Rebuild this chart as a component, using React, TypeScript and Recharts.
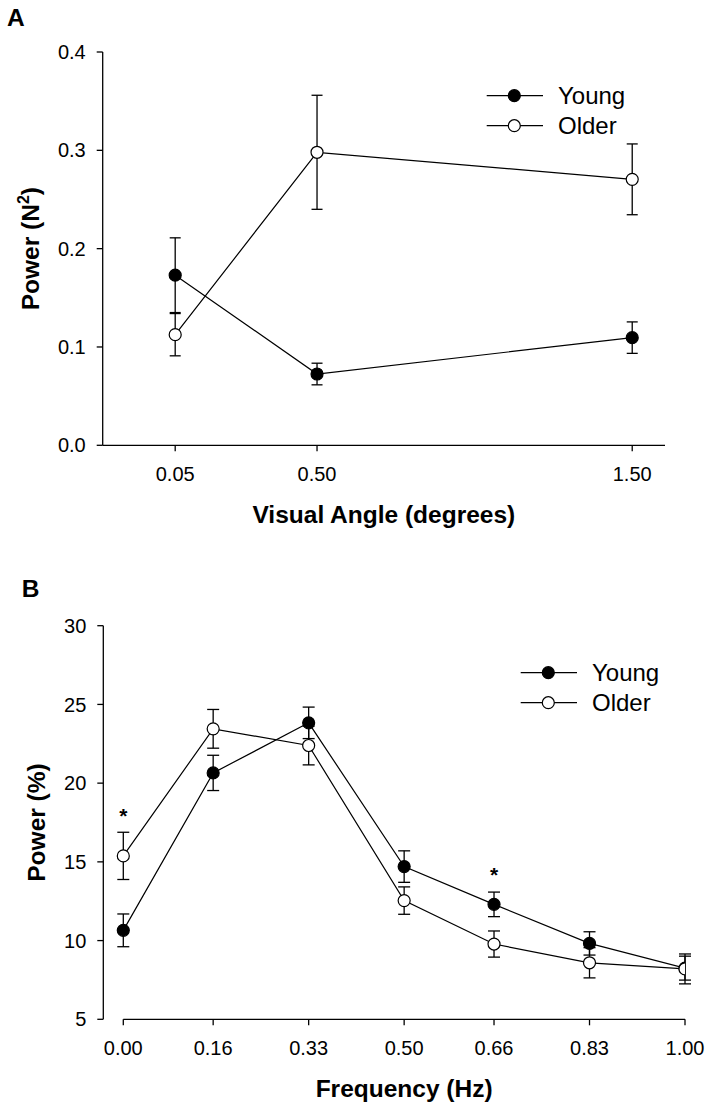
import React from 'react';
import {
  ComposedChart,
  Line,
  ErrorBar,
  Scatter,
  XAxis,
  YAxis,
  Legend,
  ReferenceLine,
} from 'recharts';

const FONT = '"Liberation Sans", Arial, Helvetica, sans-serif';

// Panel A: power by visual angle
const anglesA = [0.05, 0.5, 1.5];
const youngPowerA = [0.173, 0.0725, 0.1095];
const youngErrA = [0.038, 0.011, 0.016];
const olderPowerA = [0.1125, 0.298, 0.2705];
const olderErrA = [0.0215, 0.058, 0.036];
const yTicksA = [0, 0.1, 0.2, 0.3, 0.4];

// Panel B: relative power by frequency
const freqsB = [0, 0.16, 0.33, 0.5, 0.66, 0.83, 1.0];
const youngPowerB = [10.65, 20.65, 23.83, 14.7, 12.3, 9.82, 8.25];
const youngErrB = [1.04, 1.12, 1.0, 1.0, 0.78, 0.74, 0.76];
const olderPowerB = [15.38, 23.45, 22.39, 12.54, 9.78, 8.59, 8.2];
const olderErrB = [1.5, 1.23, 1.23, 0.87, 0.83, 0.96, 0.95];
const yTicksB = [5, 10, 15, 20, 25, 30];
const sigFreqs = [0, 0.66];
const sigLevels = [18.2, 14.45];

const groups = ['Young', 'Older'];
const markerFill: Record<string, string> = { Young: '#000', Older: '#fff' };

const dataA = anglesA.map((x, i) => ({
  x,
  young: youngPowerA[i],
  youngErr: youngErrA[i],
  older: olderPowerA[i],
  olderErr: olderErrA[i],
}));

const dataB = freqsB.map((x, i) => ({
  x,
  young: youngPowerB[i],
  youngErr: youngErrB[i],
  older: olderPowerB[i],
  olderErr: olderErrB[i],
}));

const sigData = sigFreqs.map((x, i) => ({ x, y: sigLevels[i] }));

const axisStroke = { stroke: '#000', strokeWidth: 1.3 };
const tickStyle = { fill: '#000', fontSize: 20, fontFamily: FONT };

function renderKey(props: any) {
  const items = (props.payload || [])
    .filter((e: any) => markerFill[e.value])
    .sort((a: any, b: any) => groups.indexOf(a.value) - groups.indexOf(b.value));
  return (
    <svg width={200} height={60} style={{ display: 'block' }}>
      {items.map((entry: any, i: number) => {
        const y = 15.7 + i * 30;
        return (
          <g key={entry.value}>
            <line x1={0.7} x2={57} y1={y} y2={y} stroke="#000" strokeWidth={1.2} />
            <circle cx={28.3} cy={y} r={6} fill={markerFill[entry.value]} stroke="#000" strokeWidth={1.2} />
            <text x={72} y={y} dy="0.36em" fontSize={24} fontFamily={FONT} fill="#000">
              {entry.value}
            </text>
          </g>
        );
      })}
    </svg>
  );
}

function xTitle(text: string, shift: number) {
  return (props: any) => {
    const vb = props.viewBox;
    return (
      <text
        x={vb.x + vb.width / 2 + shift}
        y={vb.y + 77.5}
        textAnchor="middle"
        fontSize={24.5}
        fontWeight="bold"
        fontFamily={FONT}
        fill="#000"
      >
        {text}
      </text>
    );
  };
}

function yTitle(baseX: number, sup: boolean) {
  return (props: any) => {
    const vb = props.viewBox;
    const x = vb.x + baseX;
    const y = vb.y + vb.height / 2;
    return (
      <text
        x={x}
        y={y}
        transform={`rotate(-90, ${x}, ${y})`}
        textAnchor="middle"
        fontSize={24.5}
        fontWeight="bold"
        fontFamily={FONT}
        fill="#000"
      >
        {sup ? (
          <>
            Power (N
            <tspan fontSize={16} dy={-10}>2</tspan>
            <tspan dy={10}>)</tspan>
          </>
        ) : (
          'Power (%)'
        )}
      </text>
    );
  };
}

const Asterisk = (p: any) => (
  <text x={p.cx} y={p.cy} dy="0.57em" textAnchor="middle" fontSize={21} fontWeight="bold" fontFamily={FONT} fill="#000">
    *
  </text>
);

function dotStyle(fill: string) {
  return { r: 6, fill, stroke: '#000', strokeWidth: 1.2 };
}

function PanelA() {
  return (
    <ComposedChart width={712} height={560} data={dataA} margin={{ top: 52, right: 47, bottom: 0, left: 0 }}>
      <XAxis
        dataKey="x"
        type="number"
        domain={[-0.18, 1.604]}
        allowDataOverflow
        ticks={anglesA}
        interval={0}
        tickFormatter={(v: number) => v.toFixed(2)}
        height={114.7}
        tickSize={6}
        tickMargin={15.7}
        axisLine={axisStroke}
        tickLine={axisStroke}
        tick={tickStyle}
        label={{ content: xTitle('Visual Angle (degrees)', 0) }}
      />
      <YAxis
        type="number"
        domain={[0, 0.4]}
        allowDataOverflow
        ticks={yTicksA}
        interval={0}
        tickFormatter={(v: number) => v.toFixed(1)}
        width={102.7}
        tickSize={6}
        tickMargin={11}
        axisLine={axisStroke}
        tickLine={axisStroke}
        tick={tickStyle}
        label={{ content: yTitle(39, true) }}
      />
      <Legend
        layout="vertical"
        align="center"
        verticalAlign="middle"
        content={renderKey}
        wrapperStyle={{ left: 486, top: 80, width: 200, height: 60 }}
      />
      <Line
        dataKey="young"
        name="Young"
        type="linear"
        stroke="#000"
        strokeWidth={1.2}
        dot={dotStyle('#000')}
        activeDot={false}
        isAnimationActive={false}
      >
        <ErrorBar dataKey="youngErr" direction="y" width={5.5} stroke="#000" strokeWidth={1.3} isAnimationActive={false} />
      </Line>
      <Line
        dataKey="older"
        name="Older"
        type="linear"
        stroke="#000"
        strokeWidth={1.2}
        dot={dotStyle('#fff')}
        activeDot={false}
        isAnimationActive={false}
      >
        <ErrorBar dataKey="olderErr" direction="y" width={5.5} stroke="#000" strokeWidth={1.3} isAnimationActive={false} />
      </Line>
    </ComposedChart>
  );
}

function PanelB() {
  return (
    <ComposedChart width={712} height={550} data={dataB} margin={{ top: 65.7, right: 27, bottom: 0, left: 0 }}>
      <XAxis
        dataKey="x"
        type="number"
        domain={[-0.0356, 1.0]}
        allowDataOverflow
        ticks={freqsB}
        interval={0}
        tickFormatter={(v: number) => v.toFixed(2)}
        height={90.7}
        tickSize={6}
        tickMargin={15.7}
        axisLine={false}
        tickLine={axisStroke}
        tick={tickStyle}
        label={{ content: xTitle('Frequency (Hz)', 10) }}
      />
      <YAxis
        type="number"
        domain={[5, 30]}
        allowDataOverflow
        ticks={yTicksB}
        interval={0}
        width={103.3}
        tickSize={6}
        tickMargin={11}
        axisLine={axisStroke}
        tickLine={axisStroke}
        tick={tickStyle}
        label={{ content: yTitle(45, false) }}
      />
      <ReferenceLine
        segment={[
          { x: freqsB[0], y: yTicksB[0] },
          { x: freqsB[freqsB.length - 1], y: yTicksB[0] },
        ]}
        stroke="#000"
        strokeWidth={1.3}
      />
      <Legend
        layout="vertical"
        align="center"
        verticalAlign="middle"
        content={renderKey}
        wrapperStyle={{ left: 520, top: 97, width: 200, height: 60 }}
      />
      <Line
        dataKey="young"
        name="Young"
        type="linear"
        stroke="#000"
        strokeWidth={1.2}
        dot={dotStyle('#000')}
        activeDot={false}
        isAnimationActive={false}
      >
        <ErrorBar dataKey="youngErr" direction="y" width={6} stroke="#000" strokeWidth={1.3} isAnimationActive={false} />
      </Line>
      <Line
        dataKey="older"
        name="Older"
        type="linear"
        stroke="#000"
        strokeWidth={1.2}
        dot={dotStyle('#fff')}
        activeDot={false}
        isAnimationActive={false}
      >
        <ErrorBar dataKey="olderErr" direction="y" width={6} stroke="#000" strokeWidth={1.3} isAnimationActive={false} />
      </Line>
      <Scatter data={sigData} dataKey="y" name="sig" legendType="none" shape={Asterisk} isAnimationActive={false} />
    </ComposedChart>
  );
}

export default function App() {
  return (
    <div style={{ position: 'absolute', left: 0, top: 0, width: 712, height: 1110, background: '#fff' }}>
      <div style={{ position: 'absolute', left: 0, top: 0 }}>
        <PanelA />
      </div>
      <div style={{ position: 'absolute', left: 0, top: 560 }}>
        <PanelB />
      </div>
      <svg width={712} height={1110} style={{ position: 'absolute', left: 0, top: 0, pointerEvents: 'none' }}>
        <text x={7} y={26} fontSize={24.5} fontWeight="bold" fontFamily={FONT} fill="#000">A</text>
        <text x={21.7} y={596.7} fontSize={24.5} fontWeight="bold" fontFamily={FONT} fill="#000">B</text>
      </svg>
    </div>
  );
}
